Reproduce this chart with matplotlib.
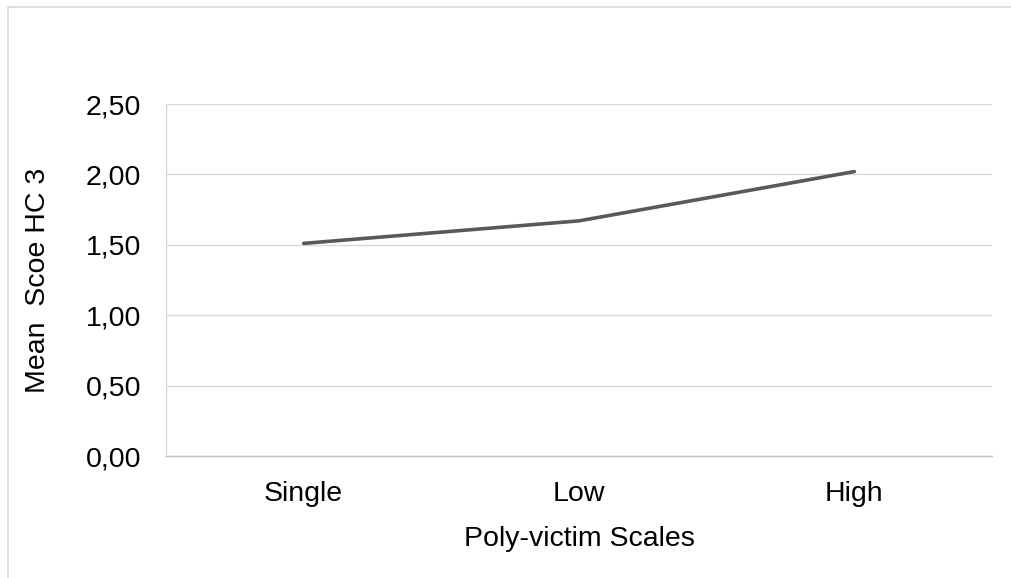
import matplotlib
matplotlib.use("Agg")
import matplotlib.pyplot as plt
import matplotlib.patches as patches

plt.rcParams['font.family'] = ['Liberation Sans', 'DejaVu Sans']

categories = ['Single', 'Low', 'High']
mean_scores = [1.51, 1.67, 2.02]
y_ticks = [0.0, 0.5, 1.0, 1.5, 2.0, 2.5]
y_tick_labels = ['0,00', '0,50', '1,00', '1,50', '2,00', '2,50']

fig = plt.figure(figsize=(10.12, 5.78), dpi=100)
ax = fig.add_axes([166/1012, 122/578, 826/1012, 352/578])

# outer chart frame (cut off at right and bottom like the original)
fig.patches.append(patches.Rectangle((8/1012, -0.1), 1.2, 1.1 - 7/578,
                                     transform=fig.transFigure, fill=False,
                                     edgecolor='#d9d9d9', linewidth=1.2))

x = range(len(categories))
ax.plot(x, mean_scores, color='#595959', linewidth=2.6, solid_capstyle='round')

ax.set_xlim(-0.5, len(categories) - 0.5)
ax.set_ylim(0, 2.5)
ax.set_yticks(y_ticks)
ax.set_yticklabels(y_tick_labels)
ax.set_xticks(list(x))
ax.set_xticklabels(categories)
ax.tick_params(length=0, labelsize=20.5, colors='black')
ax.tick_params(axis='y', pad=18)
ax.tick_params(axis='x', pad=18)

ax.grid(axis='y', color='#d9d9d9', linewidth=1.0)
ax.set_axisbelow(True)
for side in ['top', 'right']:
    ax.spines[side].set_visible(False)
ax.spines['left'].set_color('#d9d9d9')
ax.spines['bottom'].set_color('#bfbfbf')
ax.spines['left'].set_linewidth(1.0)
ax.spines['bottom'].set_linewidth(1.0)

ax.set_xlabel('Poly-victim Scales', fontsize=20.5, labelpad=14)
ax.set_ylabel('Mean  Scoe HC 3', fontsize=20.5, labelpad=25)

fig.savefig('out.png', dpi=100)
